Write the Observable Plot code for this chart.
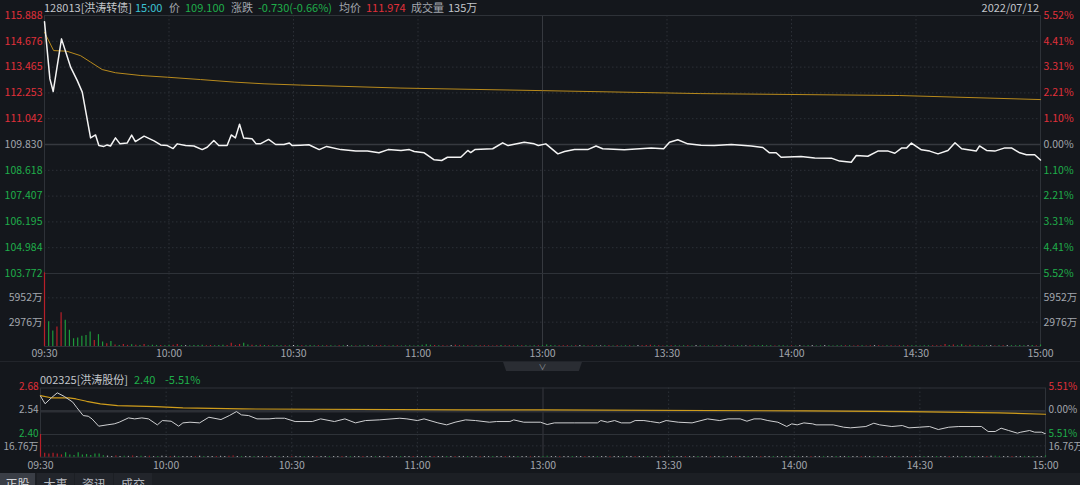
<!DOCTYPE html>
<html><head><meta charset="utf-8">
<script src="https://cdn.jsdelivr.net/npm/d3@7"></script>
<script src="https://cdn.jsdelivr.net/npm/@observablehq/plot@0.6"></script>
<style>
html,body{margin:0;padding:0;background:#14171c;}
#root{position:relative;width:1080px;height:485px;overflow:hidden;background:#14171c;font-family:"Noto Sans CJK SC","Noto Sans",sans-serif;}
.t{position:absolute;white-space:nowrap;font-size:11px;line-height:14px;}
.tab{position:absolute;top:473px;height:14px;font-size:12px;line-height:22px;color:#b7bac0;text-align:center;}
</style></head><body><div id="root"></div>
<script>
// ---------- DATA ----------
// time axis (minutes since 09:30, lunch break collapsed)
const xTicks  = [0, 30, 60, 90, 120, 150, 180, 210, 240];
const xLabels = ["09:30","10:00","10:30","11:00","13:00","13:30","14:00","14:30","15:00"];

// 128013 [洪涛转债]
const bondPrev  = 109.830;
const bondTicks = [115.888,114.676,113.465,112.253,111.042,109.830,108.618,107.407,106.195,104.984,103.772];
const bondPct   = ["5.52%","4.41%","3.31%","2.21%","1.10%","0.00%","1.10%","2.21%","3.31%","4.41%","5.52%"];
const bondPrice = [[0,115.6],[1.3,112.91],[2.1,112.32],[4.1,114.79],[6.3,113.46],[7.9,112.83],[9.1,112.29],[11.1,110.14],[12.3,110.28],[13.1,109.78],[14.3,109.74],[15.1,109.81],[15.9,109.76],[17.1,110.14],[18.2,109.86],[19.9,109.90],[21,110.27],[21.9,109.97],[24,110.22],[26.4,110.0],[28,109.81],[29.6,109.78],[31,109.64],[32,109.86],[34,109.78],[36,109.76],[38,109.59],[39.2,109.70],[40.8,110.02],[42,109.78],[44,109.78],[45,110.28],[46,110.14],[47,110.78],[48,110.13],[50,110.10],[51,109.86],[52,109.86],[54,110.07],[55.7,109.83],[57.7,109.83],[59,109.90],[59.7,109.78],[61.7,109.80],[63.7,109.82],[66.2,109.59],[68,109.74],[71.4,109.59],[75,109.52],[77.8,109.52],[80.6,109.44],[82.8,109.59],[85.9,109.55],[87.9,109.59],[89.1,109.50],[91.5,109.44],[93.9,109.11],[95.7,109.08],[97.1,109.23],[100.3,109.23],[102,109.55],[102.7,109.45],[103.7,109.59],[108,109.63],[110.4,109.91],[111.7,109.78],[115.6,109.94],[118,109.86],[119,109.78],[120.8,109.86],[123.7,109.39],[125.3,109.50],[127.7,109.59],[130.9,109.59],[132.9,109.76],[134.5,109.63],[139.7,109.58],[146.2,109.67],[149.2,109.63],[150.6,109.94],[152.6,110.05],[155,109.86],[158.2,109.80],[161.4,109.78],[165.5,109.83],[170.3,109.76],[173.1,109.69],[174.7,109.44],[176.3,109.44],[177.5,109.23],[182.3,109.27],[185.6,109.20],[189.6,109.19],[191.6,109.05],[194.4,109.00],[195.6,109.31],[198.4,109.28],[200.8,109.52],[203.3,109.52],[204.9,109.42],[206.5,109.66],[207.7,109.66],[208.9,109.90],[211.3,109.58],[213.3,109.52],[215.3,109.39],[217.7,109.55],[219.4,109.91],[221,109.63],[224.5,109.52],[225.3,109.76],[227,109.55],[229,109.52],[231.4,109.67],[233,109.67],[235,109.44],[236.6,109.35],[238.6,109.35],[240,109.10]];
const bondAvg = [[0,115.1],[2.2,114.24],[5.4,114.21],[8.7,114.0],[11.1,113.7],[13.9,113.35],[17.1,113.2],[23.2,113.07],[29.6,112.99],[37.6,112.88],[45.7,112.76],[52.9,112.68],[61.7,112.62],[85.9,112.48],[120,112.36],[158,112.22],[206,112.13],[240,111.94]];
const bondVolTicks = [5952, 2976];
const bondVolMax = 8928;
// volume per minute (万), m0..m240
const bondVol = [9010,3020,1900,2400,4130,3220,1980,950,1030,1240,1360,1780,740,1450,540,330,620,
 180,120,250,140,200,160,120,240,100,150,
 130,110,90,160,140,250,120,100,90,130,
 110,150,90,120,100,130,140,110,400,120,
 250,400,180,140,110,150,120,100,90,110,
 100,90,80,120,100,90,80,110,90,100,
 80,90,100,70,90,80,100,90,70,80,
 90,70,80,100,80,90,70,80,90,70,
 80,90,70,100,160,200,150,120,90,80,
 70,90,150,100,80,90,70,80,90,100,
 80,70,90,110,80,90,70,80,90,80,
 70,80,90,100,
 180,120,100,90,80,90,70,80,90,80,
 70,80,90,70,80,90,70,80,70,90,
 80,70,90,80,120,150,90,80,70,80,
 90,80,70,80,90,70,80,90,70,80,
 70,80,90,70,80,70,90,80,70,80,
 90,100,120,90,80,70,80,90,70,80,
 70,80,70,90,80,70,80,90,80,70,
 80,100,90,80,70,80,90,70,80,90,
 80,70,90,80,70,90,80,100,80,90,
 70,80,90,100,80,90,250,120,180,90,
 200,80,150,90,80,70,90,80,70,90,
 80,90,100,80,120,90,100,110,90,180];
const bondVolDir = "rggrrgggggggrggrg" +
 "rgrrgrgrgg"+"grggrrgwgg"+"ggrrgggrrr"+"rggrgrgrgg"+"grgwgrgggr"+"grggrgwgrg"+"gwgrrgrgrg"+"gggggggrgr"+"rwrrgrrgrr"+"rrrgrrrgrg"+"ggrg"+
 "gggrrrgrwg"+"rrgwgrgrgg"+"rgwrrrgrrg"+"rgggrgwgrg"+"grgwgrggwr"+"gggggrgggr"+"gwggwggwgg"+"ggrgrrgrrw"+"rrgrrrgrgg"+"gggrrrrgrg"+"grrggrgwrg"+"rwggggwgrg";

// 002325 [洪涛股份]
const stockPrev  = 2.54;
const stockTicks = [2.68, 2.54, 2.40];
const stockPct   = ["5.51%","0.00%","5.51%"];
const stockPrice = [[0,2.631],[1.1,2.585],[2.6,2.621],[4,2.651],[5.7,2.629],[7.7,2.595],[8.7,2.561],[10.2,2.514],[11.4,2.510],[12.3,2.494],[13.9,2.450],[15.9,2.458],[17.6,2.464],[18.8,2.474],[21,2.500],[22.5,2.494],[24.2,2.500],[25.8,2.494],[27.9,2.458],[29.1,2.484],[31.2,2.480],[33,2.450],[34,2.470],[35.7,2.474],[38,2.470],[40.2,2.504],[43.1,2.490],[45.1,2.514],[46.8,2.538],[48,2.518],[49.7,2.514],[51.7,2.494],[54.6,2.494],[56.2,2.498],[58.3,2.498],[60.8,2.478],[64.9,2.478],[66.9,2.494],[70.2,2.478],[72.7,2.494],[75.2,2.470],[77.6,2.484],[80.9,2.488],[85.8,2.498],[87.5,2.494],[90,2.484],[91.6,2.494],[94.9,2.470],[97,2.458],[99,2.474],[101.5,2.488],[103.9,2.484],[107.2,2.474],[108.9,2.478],[112.1,2.478],[113,2.488],[115.4,2.474],[119.4,2.474],[121,2.460],[122.7,2.470],[127.6,2.470],[133,2.470],[133.8,2.484],[135.4,2.474],[137.1,2.484],[138.7,2.470],[140.8,2.470],[142,2.484],[144.1,2.484],[145.7,2.478],[147.8,2.470],[149.4,2.484],[152.3,2.474],[155.6,2.470],[159.3,2.494],[162.2,2.484],[164.2,2.494],[167.1,2.494],[168.7,2.480],[170.4,2.494],[172,2.494],[173.7,2.484],[176.1,2.474],[178.2,2.448],[179.4,2.464],[180.7,2.458],[182.3,2.470],[184.4,2.464],[185.2,2.458],[189.3,2.458],[191.8,2.444],[193.4,2.440],[197.1,2.448],[199,2.468],[200.4,2.458],[203.3,2.448],[205.8,2.454],[207.4,2.440],[209.9,2.444],[212.3,2.448],[214.4,2.430],[216.9,2.444],[219.3,2.448],[222.2,2.448],[224.7,2.448],[226.3,2.418],[228,2.418],[229.4,2.438],[231.2,2.424],[233.3,2.408],[234.1,2.414],[236.2,2.424],[237.4,2.414],[239.1,2.414],[240,2.404]];
const stockAvg = [[0,2.634],[2.8,2.620],[6.8,2.620],[8.5,2.614],[11,2.600],[14.3,2.584],[18.4,2.574],[27.5,2.568],[34,2.560],[48,2.554],[101.5,2.548],[120,2.548],[182.7,2.542],[207.4,2.538],[228.8,2.530],[240,2.522]];
const stockVolTicks = [16.76];
const stockVolMax = 33.52;
const stockVol = [33.5,5.9,4.9,5.9,4.9,3.4,6.4,3.4,2.4,6.4,3.4,3.9,2.4,4.9,4.9,
 2.0,1.5,1.2,1.8,1.0,1.4,1.2,1.6,1.0,1.3,
 1.1,1.4,1.0,1.2,1.5,1.1,1.0,1.3,1.2,1.0,
 1.2,1.0,1.1,1.4,1.0,1.2,1.1,1.0,1.3,1.0,
 1.5,1.8,1.2,1.1,1.0,1.2,1.0,1.1,1.0,1.2,
 1.0,1.1,1.0,1.2,1.0,1.1,1.0,1.0,1.2,1.0,
 1.1,1.0,1.2,1.0,1.0,1.1,1.0,1.2,1.0,1.1,
 1.0,1.0,1.1,1.0,1.2,1.0,1.0,1.1,1.0,1.0,
 1.1,1.0,1.0,1.2,1.0,1.1,1.0,1.0,1.1,1.2,
 1.0,1.1,1.0,1.0,1.2,1.0,1.1,1.0,1.0,1.1,
 1.0,1.2,1.0,1.0,1.1,1.0,1.0,1.2,1.0,1.1,
 1.0,1.0,1.1,1.0,1.0,1.2,
 1.5,1.2,1.0,1.1,1.0,1.0,1.2,1.0,1.1,1.0,
 1.0,1.1,1.0,1.0,1.2,1.0,1.0,1.1,1.0,1.0,
 1.2,1.0,1.1,1.0,1.0,1.1,1.0,1.2,1.0,1.0,
 1.1,1.0,1.0,1.2,1.0,1.1,1.0,1.0,1.1,1.0,
 1.0,1.2,1.0,1.0,1.1,1.0,1.0,1.1,1.0,1.2,
 1.0,1.0,1.1,1.0,1.2,1.0,1.0,1.1,1.0,1.0,
 1.1,1.0,1.0,1.2,1.0,1.0,1.1,1.0,1.0,1.2,
 1.0,1.1,1.0,1.0,1.2,1.0,1.1,1.0,1.0,1.0,
 1.2,1.0,1.0,1.1,1.0,1.0,1.2,1.0,1.1,1.0,
 1.0,1.1,1.0,1.2,1.0,1.0,1.1,1.0,1.2,1.0,
 1.1,1.0,1.2,1.0,1.0,1.1,1.3,1.5,1.2,1.0,
 1.2,1.0,1.1,1.0,1.2,1.0,1.1,1.0,1.2,1.8];
const stockVolDir = "rrrrrrggggggggg" +
 "gwwrwgwrwg"+"wrwgwwrwgw"+"wwrwgwwrww"+"rrwgwwgwwr"+"wwgwwrwwgw"+"wrwwgwwrwg"+"wwrwwgwwrw"+"wgwwrwwgwr"+"wwgwrwwgww"+"rwwgwwrwwg"+"wwrwwg"+
 "gwwrwwgwwr"+"wwgwwrwwgw"+"wrwwgwwrww"+"gwwrwwgwwr"+"wwgwwrwwgw"+"wrwwgwwgww"+"gwwrwwgwwg"+"wwgwwrwwgw"+"wrwwgwwrww"+"gwwgwwrwwg"+"wwgwwrwggw"+"wrwwgwgwwg";

// ---------- STYLE ----------
const RED = "#e0303a", GREEN = "#1fae4a", GREY = "#a2a6ad";
const GRID = "#2c3037", FRAME = "#2e3238", MID = "#36393f";
const VOLC = {r: "#b81f28", g: "#1d9a3a", w: "#c9cbce"};
const FONT = '"Noto Sans CJK SC","Noto Sans",sans-serif';
const baseStyle = {background: "transparent", color: GREY, fontFamily: FONT, fontSize: "10.5px", overflow: "visible"};
const smallStyle = {...baseStyle, fontSize: "10px"};
const tone = (v, ref) => v > ref + 1e-9 ? RED : v < ref - 1e-9 ? GREEN : GREY;
const innerTicks = xTicks.filter(t => t !== 0 && t !== 240 && t !== 120);

const root = document.getElementById("root");
function place(el, top) { el.style.position = "absolute"; el.style.left = "0px"; el.style.top = top + "px"; root.appendChild(el); }
function txt(s, left, top, color, extra) {
  const d = document.createElement("div"); d.className = "t"; d.textContent = s;
  d.style.left = left + "px"; d.style.top = top + "px"; d.style.color = color;
  if (extra) Object.assign(d.style, extra);
  root.appendChild(d); return d;
}

// ---------- header ----------
txt("128013[洪涛转债]", 44, 0, "#c3c6cb");
txt("15:00", 135, 0, "#3cc3d3");
txt("价", 169, 0, GREY);
txt("109.100", 185, 0, GREEN);
txt("涨跌", 231, 0, GREY);
txt("-0.730(-0.66%)", 258, 0, GREEN);
txt("均价", 339, 0, GREY);
txt("111.974", 366, 0, RED);
txt("成交量", 411, 0, GREY);
txt("135万", 448, 0, "#c3c6cb");
txt("2022/07/12", 0, 0, "#c3c6cb", {left: "auto", right: "41px"});

// ---------- top price panel ----------
const bondTop = Plot.plot({
  width: 1080, height: 280, marginTop: 15, marginBottom: 7, marginLeft: 44, marginRight: 40,
  x: {domain: [0, 240], axis: null},
  y: {domain: [bondTicks[bondTicks.length - 1], bondTicks[0]], axis: null},
  color: {type: "identity"},
  style: baseStyle,
  marks: [
    Plot.ruleY(bondTicks.filter(t => t !== bondPrev), {stroke: GRID, strokeDasharray: "1.5 2.5"}),
    Plot.ruleX(innerTicks, {stroke: GRID, strokeDasharray: "1.5 2.5"}),
    Plot.ruleX([120], {stroke: MID}),
    Plot.ruleY([bondPrev], {stroke: MID, strokeWidth: 1.5}),
    Plot.frame({stroke: FRAME}),
    Plot.line(bondAvg, {x: d => d[0], y: d => d[1], stroke: "#b88a1c", strokeWidth: 1}),
    Plot.line(bondPrice, {x: d => d[0], y: d => d[1], stroke: "#f4f4f4", strokeWidth: 1.5}),
    Plot.text(bondTicks, {y: d => d, frameAnchor: "left", textAnchor: "end", dx: -2, text: d => d.toFixed(3), fill: d => tone(d, bondPrev)}),
    Plot.text(bondTicks, {y: d => d, frameAnchor: "right", textAnchor: "start", dx: 3, text: (d, i) => bondPct[i], fill: d => tone(d, bondPrev)})
  ]
});
place(bondTop, 0);

// ---------- top volume panel ----------
const bondVolData = bondVol.map((v, i) => ({m: i, v, c: VOLC[bondVolDir[i]]}));
const bondBottom = Plot.plot({
  width: 1080, height: 95, marginTop: 0, marginBottom: 22, marginLeft: 44, marginRight: 40,
  x: {domain: [0, 240], axis: null},
  y: {domain: [0, bondVolMax], axis: null},
  color: {type: "identity"},
  style: baseStyle,
  marks: [
    Plot.ruleY(bondVolTicks, {stroke: GRID, strokeDasharray: "1.5 2.5"}),
    Plot.ruleX(innerTicks, {stroke: GRID, strokeDasharray: "1.5 2.5"}),
    Plot.ruleX([120], {stroke: MID}),
    Plot.frame({stroke: FRAME}),
    Plot.ruleX(bondVolData, {x: "m", y1: 0, y2: "v", stroke: "c", strokeWidth: 1.2}),
    Plot.text(bondVolTicks, {y: d => d, frameAnchor: "left", textAnchor: "end", dx: -2, text: d => d + "万", fill: GREY}),
    Plot.text(bondVolTicks, {y: d => d, frameAnchor: "right", textAnchor: "start", dx: 3, text: d => d + "万", fill: GREY}),
    Plot.text(xTicks, {x: d => d, frameAnchor: "bottom", lineAnchor: "top", dy: 3, text: (d, i) => xLabels[i], fill: GREY})
  ]
});
place(bondBottom, 273);

// ---------- divider ----------
const line = document.createElement("div");
Object.assign(line.style, {position: "absolute", left: "0px", top: "361px", width: "1080px", height: "1px", background: "#22252b"});
root.appendChild(line);
const handle = document.createElement("div");
Object.assign(handle.style, {position: "absolute", left: "503px", top: "362px", width: "79px", height: "9px", background: "#2a2d33",
  clipPath: "polygon(0 0,100% 0,96% 100%,4% 100%)", color: "#8d9096", fontSize: "8px", lineHeight: "9px", textAlign: "center", fontFamily: FONT});
handle.textContent = "∨";
root.appendChild(handle);

// ---------- bottom header ----------
txt("002325[洪涛股份]", 40, 372, "#c3c6cb");
txt("2.40", 134, 372, GREEN);
txt("-5.51%", 165, 372, GREEN);

// ---------- bottom price panel ----------
const stockTop = Plot.plot({
  width: 1080, height: 60, marginTop: 7.5, marginBottom: 6, marginLeft: 40, marginRight: 35,
  x: {domain: [0, 240], axis: null},
  y: {domain: [stockTicks[stockTicks.length - 1], stockTicks[0]], axis: null},
  color: {type: "identity"},
  style: smallStyle,
  marks: [
    Plot.ruleX(innerTicks, {stroke: GRID, strokeDasharray: "1.5 2.5"}),
    Plot.ruleX([120], {stroke: MID}),
    Plot.ruleY([stockPrev], {stroke: "#2c2f35", strokeWidth: 2.5}),
    Plot.frame({stroke: FRAME}),
    Plot.line(stockAvg, {x: d => d[0], y: d => d[1], stroke: "#cf9d1c", strokeWidth: 1.2}),
    Plot.line(stockPrice, {x: d => d[0], y: d => d[1], stroke: "#cfd0d2", strokeWidth: 1}),
    Plot.text(stockTicks, {y: d => d, frameAnchor: "left", textAnchor: "end", dx: -2, dy: -1, text: d => d.toFixed(2), fill: d => tone(d, stockPrev)}),
    Plot.text(stockTicks, {y: d => d, frameAnchor: "right", textAnchor: "start", dx: 3, dy: -1, text: (d, i) => stockPct[i], fill: d => tone(d, stockPrev)})
  ]
});
place(stockTop, 380);

// ---------- bottom volume panel ----------
const stockVolData = stockVol.map((v, i) => ({m: i, v, c: VOLC[stockVolDir[i]]}));
const stockBottom = Plot.plot({
  width: 1080, height: 40, marginTop: 0, marginBottom: 17.3, marginLeft: 40, marginRight: 35,
  x: {domain: [0, 240], axis: null},
  y: {domain: [0, stockVolMax], axis: null},
  color: {type: "identity"},
  style: smallStyle,
  marks: [
    Plot.ruleY(stockVolTicks, {stroke: GRID, strokeDasharray: "1.5 2.5"}),
    Plot.ruleX(innerTicks, {stroke: GRID, strokeDasharray: "1.5 2.5"}),
    Plot.ruleX([120], {stroke: MID}),
    Plot.frame({stroke: FRAME}),
    Plot.ruleX(stockVolData, {x: "m", y1: 0, y2: "v", stroke: "c", strokeWidth: 1.2}),
    Plot.text(stockVolTicks, {y: d => d, frameAnchor: "left", textAnchor: "end", dx: -2, dy: 1, text: d => d.toFixed(2) + "万", fill: GREY}),
    Plot.text(stockVolTicks, {y: d => d, frameAnchor: "right", textAnchor: "start", dx: 3, dy: 1, text: d => d.toFixed(2) + "万", fill: GREY}),
    Plot.text(xTicks, {x: d => d, frameAnchor: "bottom", lineAnchor: "top", dy: 4, text: (d, i) => xLabels[i], fill: GREY, fontSize: 10.5})
  ]
});
place(stockBottom, 434);

// ---------- tab bar ----------
const bar = document.createElement("div");
Object.assign(bar.style, {position: "absolute", left: "0px", top: "473px", width: "1080px", height: "12px", background: "#1c1f24"});
root.appendChild(bar);
const tabs = [["正股", 0, 35, true], ["大事", 37, 37, false], ["资讯", 75, 38, false], ["成交", 114, 38, false]];
for (const [label, left, w, sel] of tabs) {
  const d = document.createElement("div"); d.className = "tab"; d.textContent = label;
  Object.assign(d.style, {left: left + "px", width: w + "px", height: "12px", background: sel ? "#3a3e46" : "#22252b", color: sel ? "#d4d6da" : "#b7bac0", overflow: "hidden"});
  root.appendChild(d);
}
</script>
</body></html>
